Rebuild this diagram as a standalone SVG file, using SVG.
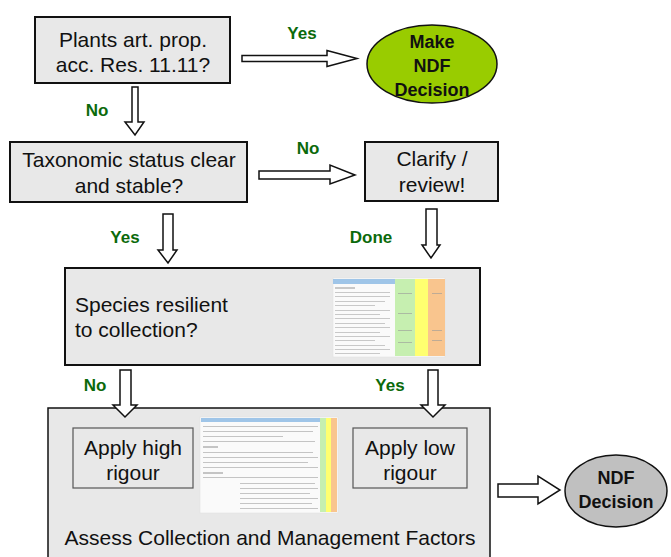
<svg xmlns="http://www.w3.org/2000/svg" width="671" height="557" viewBox="0 0 671 557">
<style>
.box{fill:#e8e8e8;stroke:#111;stroke-width:2}
.inner{fill:#e8e8e8;stroke:#555;stroke-width:1.2}
.t{font-family:"Liberation Sans",Arial,sans-serif;font-size:21px;fill:#111;text-anchor:middle}
.lbl{font-family:"Liberation Sans",Arial,sans-serif;font-size:17px;font-weight:bold;fill:#0b6a0b;text-anchor:middle}
.dec{font-family:"Liberation Sans",Arial,sans-serif;font-size:18px;font-weight:bold;fill:#111;text-anchor:middle}
.arr{fill:#fff;stroke:#111;stroke-width:1.5;stroke-linejoin:miter}
</style>
<rect width="671" height="557" fill="#fff"/>

<g id="plants">
  <rect class="box" x="35" y="17" width="195" height="66"/>
  <text class="t" x="133" y="47">Plants art. prop.</text>
  <text class="t" x="133" y="72">acc. Res. 11.11?</text>
</g>

<g id="make-ndf">
  <ellipse cx="432" cy="64" rx="65" ry="39" fill="#99cc00" stroke="#111" stroke-width="1.5"/>
  <text class="dec" x="432" y="48">Make</text>
  <text class="dec" x="432" y="72">NDF</text>
  <text class="dec" x="432" y="96">Decision</text>
</g>

<g id="taxonomic">
  <rect class="box" x="10" y="142" width="237" height="60"/>
  <text class="t" x="129" y="167">Taxonomic status clear</text>
  <text class="t" x="129" y="193">and stable?</text>
</g>

<g id="clarify">
  <rect class="box" x="365" y="142" width="133" height="59"/>
  <text class="t" x="432" y="166">Clarify /</text>
  <text class="t" x="432" y="192">review!</text>
</g>

<g id="species">
  <rect class="box" x="65" y="268" width="415" height="97" stroke-width="2.5"/>
  <text class="t" x="75" y="312" style="text-anchor:start">Species resilient</text>
  <text class="t" x="75" y="337" style="text-anchor:start">to collection?</text>
  <g id="table1">
    <rect x="333" y="278" width="112" height="79" fill="#fafafa" stroke="#ddd" stroke-width="0.5"/>
    <rect x="333" y="279" width="62" height="5" fill="#9fc5e8"/>
    <rect x="395" y="279" width="20" height="77" fill="#c6efb0"/>
    <rect x="415" y="279" width="13" height="77" fill="#ffff70"/>
    <rect x="428" y="279" width="17" height="77" fill="#f9c58e"/>
    <g fill="#c8c8c8">
      <rect x="335" y="287" width="20" height="2"/>
      <rect x="335" y="292" width="55" height="1"/>
      <rect x="335" y="296" width="55" height="1"/>
      <rect x="335" y="301" width="50" height="1"/>
      <rect x="335" y="305" width="40" height="1"/>
      <rect x="335" y="310" width="55" height="1"/>
      <rect x="335" y="314" width="45" height="1"/>
      <rect x="335" y="318" width="55" height="1"/>
      <rect x="335" y="323" width="50" height="1"/>
      <rect x="335" y="327" width="55" height="1"/>
      <rect x="335" y="332" width="45" height="1"/>
      <rect x="335" y="336" width="55" height="1"/>
      <rect x="335" y="340" width="40" height="1"/>
      <rect x="335" y="345" width="50" height="1"/>
      <rect x="335" y="349" width="55" height="1"/>
      <rect x="335" y="353" width="45" height="1"/>
    </g>
    <g fill="#9a9a9a" opacity="0.6">
      <rect x="398" y="293" width="14" height="1"/>
      <rect x="432" y="293" width="10" height="1"/>
      <rect x="398" y="313" width="14" height="1"/>
      <rect x="398" y="330" width="14" height="1"/>
      <rect x="432" y="330" width="10" height="1"/>
      <rect x="398" y="342" width="14" height="1"/>
      <rect x="432" y="340" width="10" height="1"/>
    </g>
  </g>
</g>

<g id="assess">
  <rect x="48" y="408" width="442" height="160" fill="#e8e8e8" stroke="#111" stroke-width="1.5"/>
  <text class="t" x="270" y="545">Assess Collection and Management Factors</text>
  <g id="table2">
    <rect x="200" y="417" width="138" height="96" fill="#fafafa" stroke="#ddd" stroke-width="0.5"/>
    <rect x="201" y="418" width="119" height="4" fill="#9fc5e8"/>
    <rect x="320" y="418" width="6" height="94" fill="#c6efb0"/>
    <rect x="326" y="418" width="5" height="94" fill="#ffff70"/>
    <rect x="331" y="418" width="6" height="94" fill="#f9c58e"/>
    <g fill="#c4c4c4">
      <rect x="203" y="426" width="115" height="1"/>
      <rect x="203" y="431" width="110" height="1"/>
      <rect x="203" y="436" width="80" height="1"/>
      <rect x="203" y="441" width="112" height="1"/>
      <rect x="203" y="446" width="15" height="2"/>
      <rect x="203" y="452" width="110" height="1"/>
      <rect x="203" y="457" width="115" height="1"/>
      <rect x="203" y="462" width="105" height="1"/>
      <rect x="203" y="467" width="115" height="1"/>
      <rect x="203" y="472" width="20" height="2"/>
      <rect x="203" y="477" width="115" height="1"/>
      <rect x="240" y="483" width="75" height="1"/>
      <rect x="240" y="488" width="78" height="1"/>
      <rect x="240" y="493" width="70" height="1"/>
      <rect x="240" y="498" width="78" height="1"/>
      <rect x="240" y="503" width="72" height="1"/>
      <rect x="240" y="508" width="78" height="1"/>
    </g>
  </g>
</g>

<g id="high-rigour">
  <rect class="inner" x="73" y="428" width="120" height="60"/>
  <text class="t" x="133" y="455">Apply high</text>
  <text class="t" x="133" y="480">rigour</text>
</g>

<g id="low-rigour">
  <rect class="inner" x="353" y="428" width="114" height="60"/>
  <text class="t" x="410" y="455">Apply low</text>
  <text class="t" x="410" y="480">rigour</text>
</g>

<g id="ndf-decision">
  <ellipse cx="616" cy="491" rx="51" ry="36" fill="#c0c0c0" stroke="#111" stroke-width="1.5"/>
  <text class="dec" x="616" y="484">NDF</text>
  <text class="dec" x="616" y="508">Decision</text>
</g>

<g id="connectors">
  <path class="arr" d="M242,55.5 H327 V50.5 L357,58.5 L327,66.5 V61.5 H242 Z"/>
  <path class="arr" d="M259,171 H330 V165 L355,175 L330,184 V179 H259 Z"/>
  <path class="arr" d="M132,87 V122 H125 L135,135 L144,122 H138 V87 Z"/>
  <path class="arr" d="M163,214 V250 H158 L168,263 L177,250 H173 V214 Z"/>
  <path class="arr" d="M426,209 V245 H422 L431,258 L440,245 H437 V209 Z"/>
  <path class="arr" d="M120,370 V405 H113 L125,417 L137,405 H131 V370 Z"/>
  <path class="arr" d="M428,370 V405 H421 L433,417 L445,405 H438 V370 Z"/>
  <path class="arr" d="M498,484 H538 V476 L560,490 L538,504 V497 H498 Z"/>
  <text class="lbl" x="302" y="39">Yes</text>
  <text class="lbl" x="97" y="116">No</text>
  <text class="lbl" x="308" y="154">No</text>
  <text class="lbl" x="125" y="243">Yes</text>
  <text class="lbl" x="371" y="243">Done</text>
  <text class="lbl" x="95" y="391">No</text>
  <text class="lbl" x="390" y="391">Yes</text>
</g>
</svg>
